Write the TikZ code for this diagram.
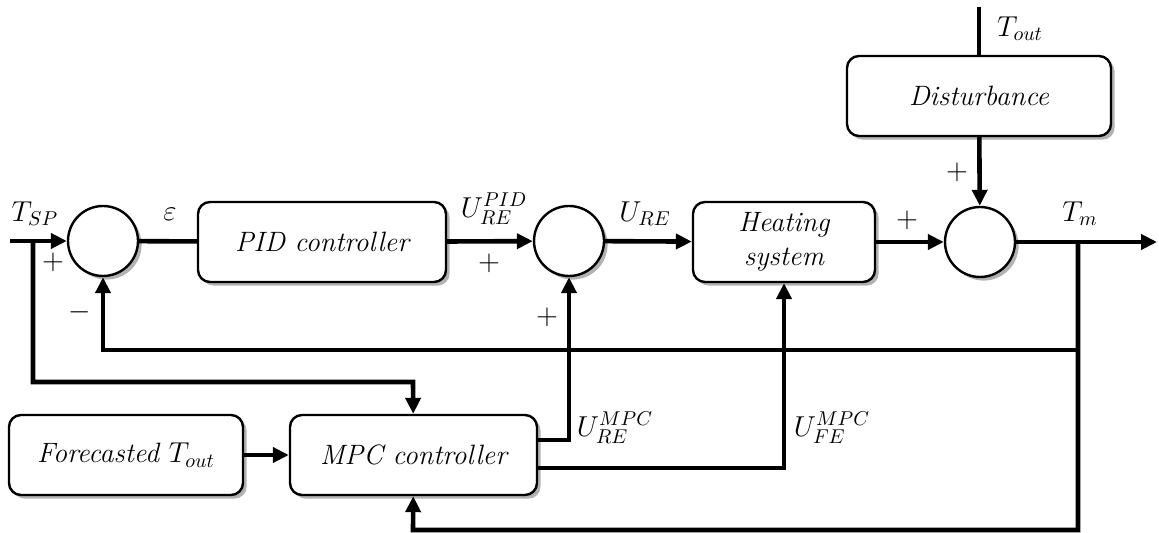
\documentclass[tikz,border=0pt]{standalone}
\usepackage{amsmath}
\usetikzlibrary{arrows.meta,positioning,calc,shadows}

\begin{document}
\begin{tikzpicture}[>={Triangle[length=8pt,width=7.5pt]},x=0.5pt,y=-0.5pt,
font=\fontsize{14.5}{17}\selectfont,
shade/.style={drop shadow={shadow xshift=1.8pt,shadow yshift=-1.8pt,fill=black!60}},
block/.style={draw,line width=1.2pt,rounded corners=6pt,fill=white,align=center,shade,
  minimum height=40pt,font=\fontsize{14}{17}\selectfont\itshape},
sumnode/.style={draw,circle,line width=1.2pt,fill=white,minimum size=35pt,inner sep=0pt,shade},
wire/.style={line width=2.3pt}]
\useasboundingbox (0,0) rectangle (1159,533);
% blocks
\node[sumnode] (s1) at (103,241) {};
\node[block,minimum width=124pt] (pid) at (322,242) {PID controller};
\node[sumnode] (s2) at (569,241) {};
\node[block,minimum width=91pt] (heat) at (784,242) {Heating\\system};
\node[sumnode] (s3) at (980,242) {};
\node[block,minimum width=132pt] (dist) at (979,96) {Disturbance};
\node[block,minimum width=117pt] (fore) at (126,455) {Forecasted $T_{out}$};
\node[block,minimum width=123.5pt] (mpc) at (413.5,455) {MPC controller};
% end points
\coordinate (in) at (10,241);
\coordinate (tsp) at (33,241);
\coordinate (out) at (1157,242);
\coordinate (tin) at (979,7);
\coordinate (br) at (1078,242);
\coordinate (fb1) at (103,350);
\coordinate (fb2) at (413,382);
\coordinate (fb3) at (413,530);
% main loop
\draw[wire,->] (in) -- (s1);
\draw[wire] (s1) -- (pid);
\draw[wire,->] (pid) -- (s2);
\draw[wire,->] (s2) -- (heat);
\draw[wire,->] (heat) -- (s3);
\draw[wire,->] (s3) -- (out);
\draw[wire] (tin) -- (dist);
\draw[wire,->] (dist) -- (s3);
% feedback
\draw[wire,->] (br) |- (fb1) -- (s1);
\draw[wire,->] (tsp) |- (fb2) -- (mpc);
\draw[wire,->] (br) |- (fb3) -- (mpc);
\draw[wire,->] (fore) -- (mpc);
\draw[wire,->] ([yshift=7.5pt]mpc.east) -| (s2);
\draw[wire,->] ([yshift=-6.5pt]mpc.east) -| (heat);
% labels
\node (lTsp) at (35,214) {$T_{SP}$};
\node (lp1) at (53,262) {$+$};
\node (lm1) at (80,312) {$-$};
\node (leps) at (170,214) {$\varepsilon$};
\node (lupid) at (494,209) {$U_{RE}^{PID}$};
\node (lp2) at (489,263) {$+$};
\node (lp3) at (547,317) {$+$};
\node (lure) at (645,214) {$U_{RE}$};
\node (lp4) at (907,220) {$+$};
\node (lp5) at (957,172) {$+$};
\node (ltm) at (1080,214) {$T_m$};
\node (ltout) at (1020,29) {$T_{out}$};
\node (lumpc1) at (615,428) {$U_{RE}^{MPC}$};
\node (lumpc2) at (832,428) {$U_{FE}^{MPC}$};
\end{tikzpicture}
\end{document}
